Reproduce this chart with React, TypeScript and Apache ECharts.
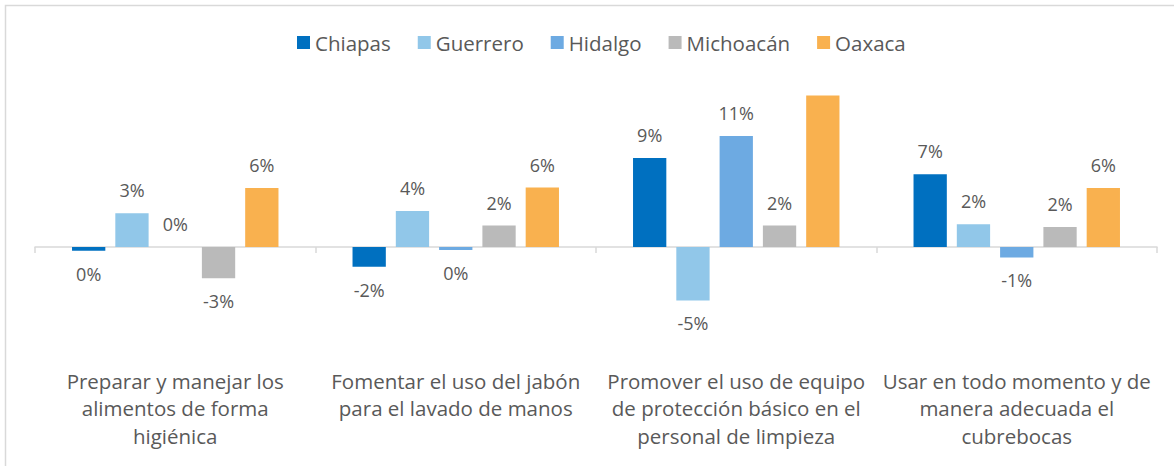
import React, { useEffect, useRef } from "react";
import * as echarts from "echarts";

const categories = [
  "Preparar y manejar los\nalimentos de forma\nhigiénica",
  "Fomentar el uso del jabón\npara el lavado de manos",
  "Promover el uso de equipo\nde protección básico en el\npersonal de limpieza",
  "Usar en todo momento y de\nmanera adecuada el\ncubrebocas",
];

const seriesNames = ["Chiapas", "Guerrero", "Hidalgo", "Michoacán", "Oaxaca"];

const chiapas = [-0.37, -2.0, 9.0, 7.35];
const guerrero = [3.4, 3.63, -5.4, 2.3];
const hidalgo = [0.0, -0.3, 11.2, -1.05];
const michoacan = [-3.15, 2.17, 2.17, 2.03];
const oaxaca = [5.97, 6.0, 15.3, 5.97];

// labels hidden in the reference (outside the plot area)
const hiddenLabels: Record<string, number[]> = { Oaxaca: [2] };

const colors = ["#0070C0", "#91C7E9", "#6DAAE2", "#BABABA", "#F9B14F"];

const FONT = "'Open Sans', 'Noto Sans', sans-serif";
const TEXT = "#595959";

export default function App() {
  const ref = useRef<HTMLDivElement>(null);
  useEffect(() => {
    if (!ref.current) return;
    const chart = echarts.init(ref.current, null, { renderer: "svg" });
    const all = [chiapas, guerrero, hidalgo, michoacan, oaxaca];
    const series = all.map((vals, si) => ({
      name: seriesNames[si],
      type: "bar",
      barGap: "30%",
      barCategoryGap: "26.4%",
      itemStyle: { color: colors[si] },
      data: vals.map((v, i) => ({
        value: v,
        label: {
          show: !(hiddenLabels[seriesNames[si]] || []).includes(i),
          position: v < 0 ? "bottom" : "top",
        },
      })),
      label: {
        show: true,
        distance: 14,
        color: TEXT,
        fontFamily: FONT,
        fontSize: 18,
        formatter: (p: any) => Math.round(p.value).toFixed(0) + "%",
      },
    }));
    chart.setOption({
      animation: false,
      textStyle: { fontFamily: FONT },
      graphic: [
        {
          type: "rect",
          shape: { x: 5.5, y: 5.5, width: 1200, height: 500 },
          style: { fill: "none", stroke: "#D9D9D9", lineWidth: 1.5 },
          silent: true,
        },
      ],
      legend: {
        top: 27,
        left: 292,
        itemWidth: 13,
        itemHeight: 13,
        itemGap: 27,
        icon: "rect",
        textStyle: { color: TEXT, fontSize: 20.5, fontFamily: FONT },
        data: seriesNames,
      },
      grid: {
        left: 35,
        right: 17,
        top: 88.6,
        height: 237.6,
        containLabel: false,
        outerBoundsMode: "none",
      },
      xAxis: {
        type: "category",
        data: categories,
        axisLine: { onZero: true, lineStyle: { color: "#D9D9D9", width: 1.5 } },
        axisTick: { show: true, length: 6, lineStyle: { color: "#D9D9D9", width: 1.5 } },
        axisLabel: {
          interval: 0,
          margin: 41,
          color: TEXT,
          fontFamily: FONT,
          fontSize: 20.5,
          lineHeight: 27.5,
          align: "center",
        },
      },
      yAxis: {
        type: "value",
        min: -8,
        max: 16,
        show: false,
        splitLine: { show: false },
      },
      series,
    });
    return () => chart.dispose();
  }, []);
  return (
    <div
      ref={ref}
      style={{ position: "fixed", left: 0, top: 0, width: 1174, height: 466, background: "#fff" }}
    />
  );
}
